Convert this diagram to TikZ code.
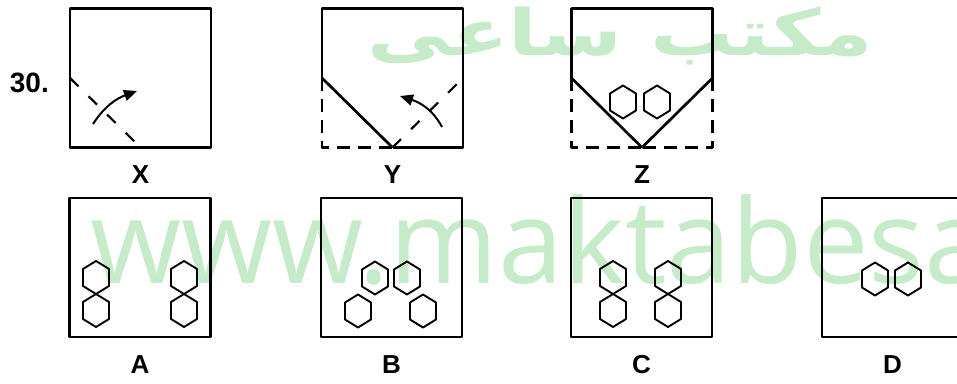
\documentclass[tikz,border=0pt]{standalone}
\usepackage{fontspec}
\setmainfont{Liberation Sans}
\newfontfamily\markfont{Open Sans}
\newfontfamily\arabicfont[Script=Arabic,FakeStretch=1.3]{DejaVu Sans}
\TeXXeTstate=1
\usepackage{tikz}
\usetikzlibrary{
arrows.meta,
positioning,
calc
}
\usepackage{xcolor}
\definecolor{markgreen}{RGB}{198,235,200}

\tikzset{
  cell/.style={minimum width=141pt, minimum height=139pt, inner sep=0pt, outer sep=0pt},
  frame/.style={line width=2.7pt},
  cut/.style={line width=2.3pt, dash pattern=on 13pt off 8pt},
  fold/.style={line width=2.2pt, dash pattern=on 12pt off 14pt},
  turn/.style={line width=2pt, -{Triangle[length=13pt,width=11pt]}},
  tag/.style={font=\bfseries\fontsize{26}{26}\selectfont, inner sep=0pt},
  hexa/.pic={\draw[line width=1.9pt] (0,16.5) -- (13,8.5) -- (13,-8.5) -- (0,-16.5) -- (-13,-8.5) -- (-13,8.5) -- cycle;}
}

\begin{document}
\begin{tikzpicture}[x=1pt, y=1pt, line join=round]

    \useasboundingbox (0,0) rectangle (957,383);
    \clip (0,0) rectangle (957,383);

    % ==================== WATERMARK ====================
    \node[anchor=base west, text=markgreen, inner sep=0pt, font=\markfont\fontsize{117}{117}\selectfont] (site) at (90,100) {www.maktabesa};
    \node[anchor=base east, text=markgreen, inner sep=0pt, font=\arabicfont\bfseries\fontsize{64}{64}\selectfont] (school) at (873,327) {\beginR مکتب ساعی\endR};

    % ==================== PROBLEM FIGURES ====================
    % Unfolded sheet X
    \node [cell, frame, draw] (boxX) at (140.5,305) {};

    % Sheet Y, folded once
    \node [cell] (boxY) at (392.5,305) {};

    % Sheet Z, folded twice
    \node [cell] (boxZ) at (642,305) {};

    % Question number
    \node [tag, font=\bfseries\fontsize{28}{28}\selectfont, left=21pt of boxX, yshift=-4.5pt] (qnum) {30.};

    % ==================== ANSWER FIGURES ====================
    \node [cell, frame, draw] (boxA) at (140,115.5) {};
    \node [cell, frame, draw] (boxB) at (391.5,115.5) {};
    \node [cell, frame, draw] (boxC) at (641.5,115.5) {};
    \node [cell, frame, draw] (boxD) at (892.5,115.5) {};

    % ==================== LABELS ====================
    \node [tag, below=18pt of boxX] (tagX) {X};
    \node [tag, below=18pt of boxY] (tagY) {Y};
    \node [tag, below=18pt of boxZ] (tagZ) {Z};
    \node [tag, below=18pt of boxA] (tagA) {A};
    \node [tag, below=18pt of boxB] (tagB) {B};
    \node [tag, below=18pt of boxC] (tagC) {C};
    \node [tag, below=18pt of boxD] (tagD) {D};

    % ==================== FOLDS ====================
    % 1. First fold line and its turn arrow on X
    \draw[fold] (boxX.west) -- (boxX.south);
    \draw[turn] (93,259) to[out=57,in=200] (137,292);

    % 2. Y: left corner turned over, second fold line on the right
    \draw[frame] (boxY.west) -- (boxY.north west) -- (boxY.north east) -- (boxY.south east) -- (boxY.south);
    \draw[frame] (boxY.west) -- (boxY.south);
    \draw[cut] (boxY.west) -- (boxY.south west) -- (boxY.south);
    \draw[fold] (boxY.south) -- (boxY.east);
    \draw[turn] (442,256) to[out=118,in=-18] (400,287);

    % 3. Z: both corners turned over, then the cut-outs
    \draw[frame] (boxZ.west) -- (boxZ.north west) -- (boxZ.north east) -- (boxZ.east) -- (boxZ.south) -- cycle;
    \draw[cut] (boxZ.west) -- (boxZ.south west) -- (boxZ.south);
    \draw[cut] (boxZ.east) -- (boxZ.south east) -- (boxZ.south);
    \pic at (623,281) {hexa};
    \pic at (657,281) {hexa};

    % ==================== HOLES IN THE ANSWERS ====================
    % A
    \pic at (96,105.5) {hexa};
    \pic at (96,72.5) {hexa};
    \pic at (184,105.5) {hexa};
    \pic at (184,72.5) {hexa};

    % B
    \pic at (375,105) {hexa};
    \pic at (407,105) {hexa};
    \pic at (358,72) {hexa};
    \pic at (423,72) {hexa};

    % C
    \pic at (613,105.5) {hexa};
    \pic at (613,72.5) {hexa};
    \pic at (668,105.5) {hexa};
    \pic at (668,72.5) {hexa};

    % D
    \pic at (875,104) {hexa};
    \pic at (908,104) {hexa};

\end{tikzpicture}
\end{document}
